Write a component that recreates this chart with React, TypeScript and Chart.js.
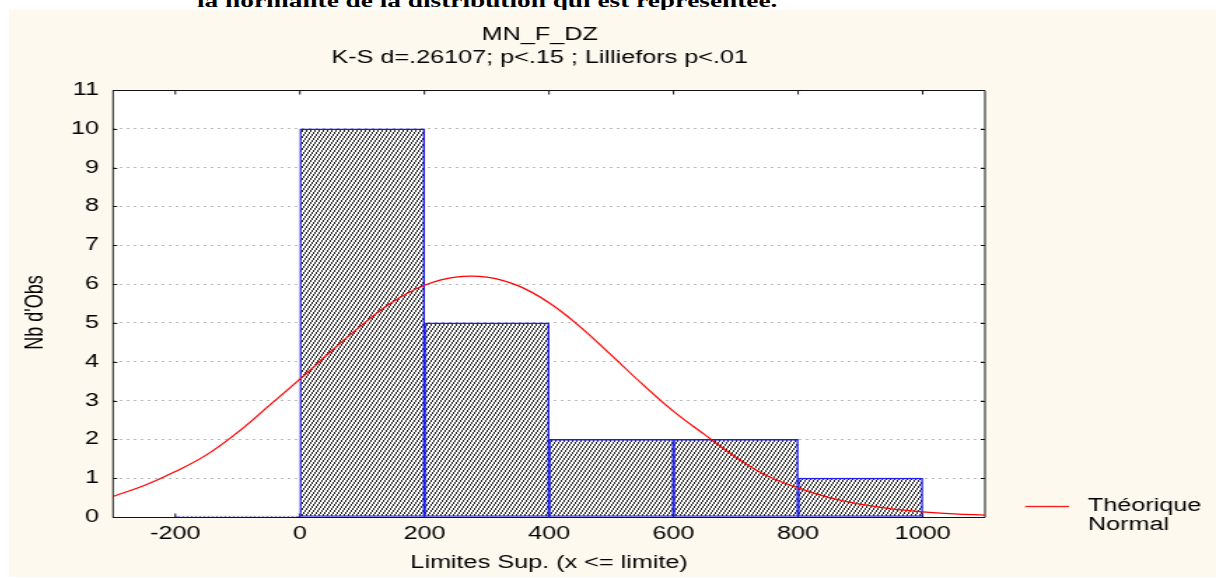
import React, { useEffect, useRef } from "react";
import { Chart, registerables } from "chart.js";

Chart.register(...registerables);

// ---- data ----
const binUpper = [0, 200, 400, 600, 800, 1000];
const binCounts = [0, 10, 5, 2, 2, 1];
const BIN_WIDTH = 200;

const curveX = [-300, -250, -200, -150, -100, -50, 0, 50, 100, 150, 200, 250, 300, 350, 400, 450, 500, 550, 600, 650, 700, 750, 800, 850, 900, 950, 1000, 1050, 1100];
const curveY = [0.53, 0.81, 1.17, 1.6, 2.18, 2.86, 3.55, 4.27, 4.95, 5.55, 5.97, 6.18, 6.18, 5.96, 5.52, 4.9, 4.17, 3.42, 2.72, 2.12, 1.54, 1.06, 0.75, 0.5, 0.33, 0.21, 0.13, 0.08, 0.05];

const xTicks = [-200, 0, 200, 400, 600, 800, 1000];
const yTicks = [0, 1, 2, 3, 4, 5, 6, 7, 8, 9, 10, 11];

const titleLines = ["MN_F_DZ", "K-S d=.26107; p<.15 ; Lilliefors p<.01"];
const xTitle = "Limites Sup. (x <= limite)";
const yTitle = "Nb d'Obs";
const legendLines = ["Théorique", "Normal"];
const headerText = "la normalité de la distribution qui est représentée.";

// ---- layout constants ----
const PANEL_W = 1207;
const CANVAS_W = 862;
const CANVAS_H = 567;
const SX = PANEL_W / CANVAS_W;
const FONT = '"Liberation Sans", Arial, sans-serif';

function makeHatch(): CanvasPattern | string {
  const t = document.createElement("canvas");
  t.width = 3;
  t.height = 6;
  const c = t.getContext("2d");
  if (!c) return "#777";
  const img = c.createImageData(3, 6);
  for (let r = 0; r < 6; r++) {
    const main = Math.floor((5 - r) / 2);
    for (let col = 0; col < 3; col++) {
      let v = 255;
      if (col === main) v = 35;
      const i = (r * 3 + col) * 4;
      img.data[i] = v;
      img.data[i + 1] = v;
      img.data[i + 2] = v;
      img.data[i + 3] = 255;
    }
  }
  c.putImageData(img, 0, 0);
  return c.createPattern(t, "repeat") || "#777";
}

const decorPlugin = {
  id: "decor",
  beforeDraw(chart: any) {
    const { ctx, chartArea: a } = chart;
    ctx.save();
    ctx.fillStyle = "#ffffff";
    ctx.fillRect(a.left, a.top, a.right - a.left, a.bottom - a.top);
    ctx.restore();
  },
  beforeDatasetsDraw(chart: any) {
    const { ctx, chartArea: a, scales } = chart;
    ctx.save();
    ctx.strokeStyle = "#111";
    ctx.lineWidth = 1;
    const top = Math.round(a.top) + 0.5;
    const bottom = Math.round(a.bottom) + 0.5;
    ctx.beginPath();
    ctx.moveTo(a.left, top);
    ctx.lineTo(a.right, top);
    ctx.moveTo(a.left, bottom);
    ctx.lineTo(a.right, bottom);
    ctx.moveTo(a.left, top);
    ctx.lineTo(a.left, bottom);
    ctx.moveTo(a.right, top);
    ctx.lineTo(a.right, bottom);
    for (const v of xTicks) {
      const px = scales.x.getPixelForValue(v);
      ctx.moveTo(px, bottom);
      ctx.lineTo(px, bottom - 4);
      ctx.moveTo(px, top);
      ctx.lineTo(px, top + 4);
    }
    for (const v of yTicks) {
      const py = Math.round(scales.y.getPixelForValue(v)) + 0.5;
      ctx.moveTo(a.left, py);
      ctx.lineTo(a.left + 3, py);
      ctx.moveTo(a.right, py);
      ctx.lineTo(a.right - 3, py);
    }
    ctx.stroke();
    ctx.restore();
  },
  afterDraw(chart: any) {
    const { ctx, chartArea: a } = chart;
    ctx.save();
    ctx.fillStyle = "#000";
    ctx.font = `18px ${FONT}`;
    ctx.textAlign = "center";
    ctx.textBaseline = "middle";
    const titleCx = 379;
    ctx.fillText(titleLines[0], titleCx, 25);
    ctx.fillText(titleLines[1], titleCx, 48.5);
    // y-axis title
    ctx.save();
    ctx.translate(19, (a.top + a.bottom) / 2 + 9);
    ctx.rotate(-Math.PI / 2);
    ctx.fillText(yTitle, 0, 0);
    ctx.restore();
    // legend
    ctx.strokeStyle = "#ff1a1a";
    ctx.lineWidth = 1.3;
    ctx.beginPath();
    ctx.moveTo(725.7, 496.5);
    ctx.lineTo(757, 496.5);
    ctx.stroke();
    ctx.textAlign = "left";
    ctx.fillText(legendLines[0], 770.5, 496);
    ctx.fillText(legendLines[1], 770.5, 515.5);
    ctx.restore();
  },
};

export default function App() {
  const ref = useRef<HTMLCanvasElement>(null);

  useEffect(() => {
    const canvas = ref.current;
    if (!canvas) return;
    Chart.defaults.font.family = FONT;
    const hatch = makeHatch();
    const chart = new Chart(canvas, {
      type: "bar",
      data: {
        datasets: [
          {
            type: "line",
            label: "Théorique Normal",
            data: curveX.map((x, i) => ({ x, y: curveY[i] })),
            borderColor: "#ff0000",
            borderWidth: 1.2,
            pointRadius: 0,
            tension: 0.4,
            fill: false,
          } as any,
          {
            type: "bar",
            label: "MN_F_DZ",
            data: binUpper.map((u, i) => ({ x: u - BIN_WIDTH / 2, y: binCounts[i] })),
            backgroundColor: hatch as any,
            borderColor: "#1a1aee",
            borderWidth: 1.4,
            borderSkipped: false,
            barPercentage: 1,
            categoryPercentage: 1,
            minBarLength: 1,
          } as any,
        ],
      },
      options: {
        animation: false,
        responsive: false,
        devicePixelRatio: 1,
        layout: { padding: { left: 0, right: CANVAS_W - 697, top: 80, bottom: 0 } },
        plugins: {
          legend: { display: false },
          tooltip: { enabled: false },
          title: { display: false },
        },
        scales: {
          x: {
            type: "linear",
            min: -300,
            max: 1100,
            offset: false,
            grid: { display: false, drawTicks: false },
            border: { display: false },
            afterBuildTicks: (s: any) => {
              s.ticks = xTicks.map((v) => ({ value: v }));
            },
            afterFit: (s: any) => {
              s.height = 60;
            },
            ticks: {
              padding: 6,
              color: "#000",
              font: { size: 18 },
              maxRotation: 0,
              autoSkip: false,
              callback: (v: any) => String(v),
            },
            title: {
              display: true,
              text: xTitle,
              color: "#000",
              font: { size: 18 },
              padding: { top: 0, bottom: 3 },
            },
          },
          y: {
            type: "linear",
            min: 0,
            max: 11,
            afterBuildTicks: (s: any) => {
              s.ticks = yTicks.map((v) => ({ value: v }));
            },
            afterFit: (s: any) => {
              s.width = 74.3;
            },
            grid: { color: "#bdbdbd", drawTicks: false, lineWidth: 1 },
            border: { display: false, dash: [2, 3] },
            ticks: { padding: 10, color: "#000", font: { size: 18 }, callback: (v: any) => String(v) },
            title: { display: false },
          },
        },
      } as any,
      plugins: [decorPlugin],
    });
    return () => chart.destroy();
  }, []);

  return (
    <div
      style={{
        position: "absolute",
        left: 0,
        top: 0,
        width: 1216,
        height: 578,
        background: "#ffffff",
        overflow: "hidden",
      }}
    >
      <div
        style={{
          position: "absolute",
          left: 197,
          top: -9,
          whiteSpace: "nowrap",
          font: 'bold 19.5px "Liberation Serif", "Times New Roman", serif',
          lineHeight: "20px",
          color: "#000",
          transform: "scaleX(1.4)",
          transformOrigin: "0 0",
        }}
      >
        {headerText}
      </div>
      <div
        style={{
          position: "absolute",
          left: 9,
          top: 10,
          width: PANEL_W,
          height: CANVAS_H,
          background: "#FDF9EE",
        }}
      />
      <canvas
        ref={ref}
        width={CANVAS_W}
        height={CANVAS_H}
        style={{
          position: "absolute",
          left: 9,
          top: 10,
          width: CANVAS_W,
          height: CANVAS_H,
          transform: `scaleX(${SX})`,
          transformOrigin: "0 0",
        }}
      />
    </div>
  );
}
